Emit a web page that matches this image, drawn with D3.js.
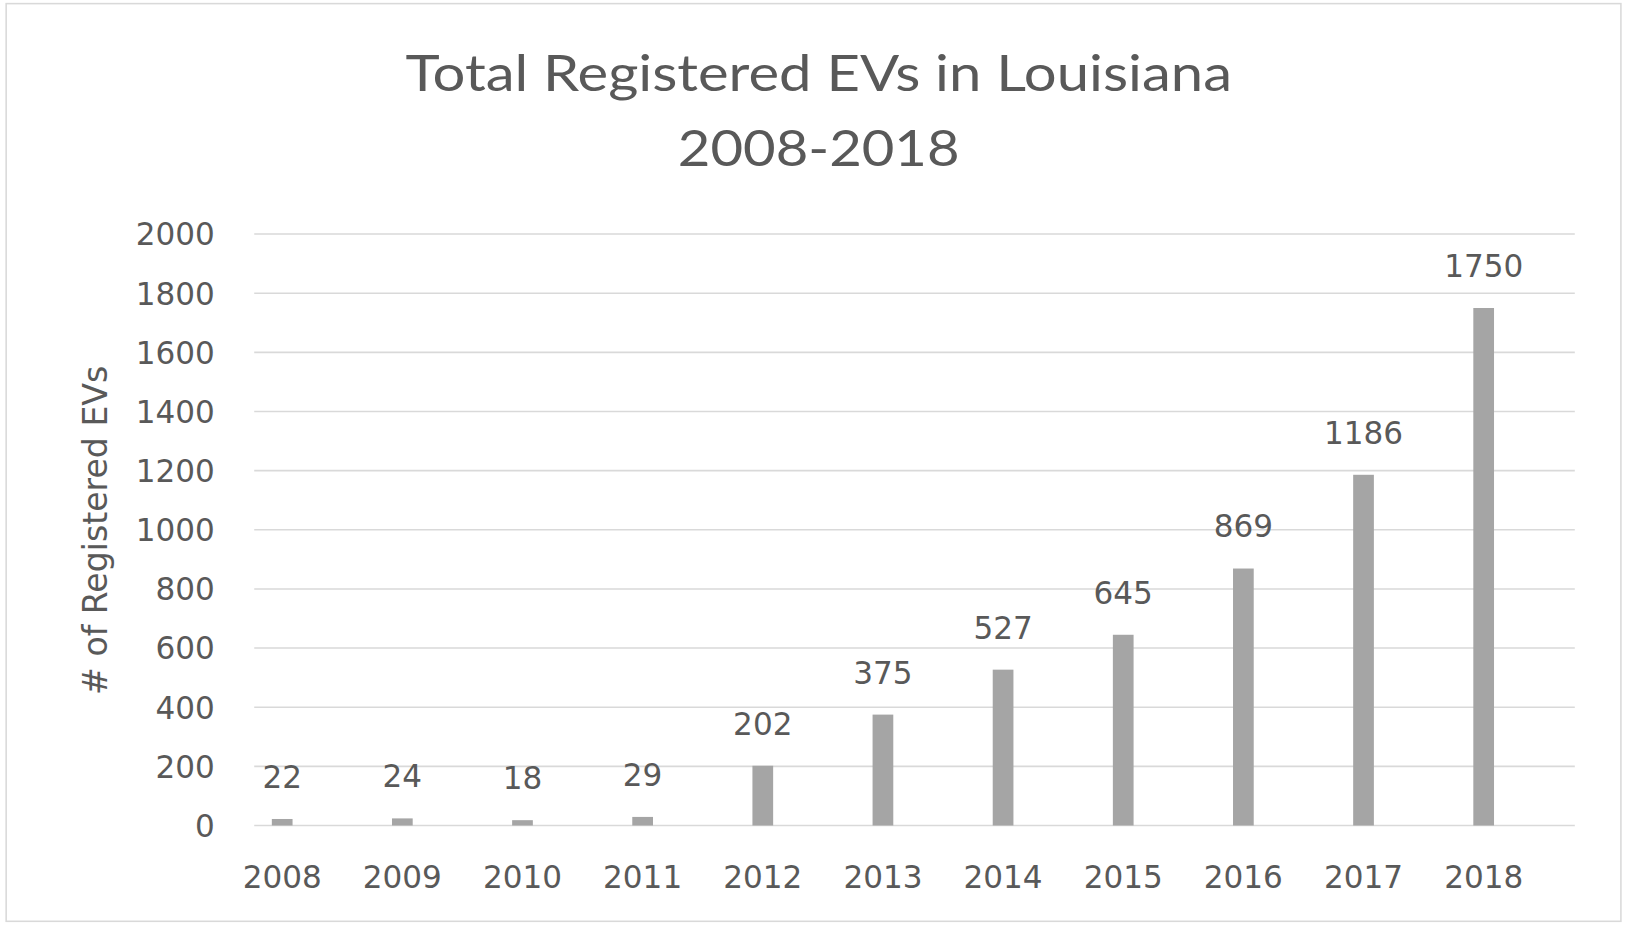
<!DOCTYPE html>
<html lang="en">
<head>
    <meta charset="UTF-8">
    <title>Total Registered EVs in Louisiana</title>
    <script src="https://d3js.org/d3.v7.min.js"></script>
    <style>
        body { margin: 0; background: #fff; }
        svg { display: block; }
    </style>
</head>
<body>
    <svg id="chart" width="1625" height="927" viewBox="0 0 1568 895"></svg>

    <script>
        const years = ["2008", "2009", "2010", "2011", "2012", "2013", "2014", "2015", "2016", "2017", "2018"];
        const evCounts = [22, 24, 18, 29, 202, 375, 527, 645, 869, 1186, 1750];
        const yTicks = [0, 200, 400, 600, 800, 1000, 1200, 1400, 1600, 1800, 2000];
        const titleLines = ["Total Registered EVs in Louisiana", "2008-2018"];
        const yLabel = "# of Registered EVs";

        const svg = d3.select("#chart");
        const textColor = "#595959";
        const tickFont = "DejaVu Sans, Verdana, sans-serif";

        // outer chart frame
        svg.append("rect")
            .attr("x", 5.5).attr("y", 3.5)
            .attr("width", 1559).attr("height", 886)
            .attr("fill", "#fff")
            .attr("stroke", "#d9d9d9")
            .attr("stroke-width", 1.5);

        const x = d3.scaleBand().domain(years).range([214, 1490]).paddingInner(0).paddingOuter(0);
        const y = d3.scaleLinear().domain([0, 2000]).range([797, 226]);
        const barW = 20;

        // gridlines
        svg.append("g").selectAll("line")
            .data(yTicks)
            .enter().append("line")
            .attr("x1", 245).attr("x2", 1520)
            .attr("y1", d => y(d)).attr("y2", d => y(d))
            .attr("stroke", "#d9d9d9")
            .attr("stroke-width", 1.5);

        // y tick labels
        svg.append("g").selectAll("text")
            .data(yTicks)
            .enter().append("text")
            .attr("x", 207)
            .attr("y", d => y(d) + 11)
            .attr("text-anchor", "end")
            .attr("fill", textColor)
            .attr("font-family", tickFont)
            .attr("font-size", 30)
            .text(d => d);

        // x tick labels
        svg.append("g").selectAll("text")
            .data(years)
            .enter().append("text")
            .attr("x", d => x(d) + x.bandwidth() / 2)
            .attr("y", 857)
            .attr("text-anchor", "middle")
            .attr("fill", textColor)
            .attr("font-family", tickFont)
            .attr("font-size", 30)
            .text(d => d);

        // bars
        svg.append("g").selectAll("rect")
            .data(evCounts)
            .enter().append("rect")
            .attr("x", (d, i) => x(years[i]) + x.bandwidth() / 2 - barW / 2)
            .attr("y", d => y(d))
            .attr("width", barW)
            .attr("height", d => y(0) - y(d))
            .attr("fill", "#a5a5a5");

        // data labels
        svg.append("g").selectAll("text")
            .data(evCounts)
            .enter().append("text")
            .attr("x", (d, i) => x(years[i]) + x.bandwidth() / 2)
            .attr("y", d => y(d) - 30)
            .attr("text-anchor", "middle")
            .attr("fill", textColor)
            .attr("font-family", tickFont)
            .attr("font-size", 30)
            .text(d => d);

        // y axis title
        svg.append("text")
            .attr("transform", "translate(103,512) rotate(-90)")
            .attr("text-anchor", "middle")
            .attr("fill", textColor)
            .attr("font-family", tickFont)
            .attr("font-size", 32)
            .text(yLabel);

        // chart title
        svg.append("g").selectAll("text")
            .data(titleLines)
            .enter().append("text")
            .attr("x", 790)
            .attr("y", (d, i) => 88 + i * 72)
            .attr("text-anchor", "middle")
            .attr("fill", textColor)
            .attr("font-family", "Lato, Open Sans, sans-serif")
            .attr("font-size", 48)
            .attr("textLength", (d, i) => i === 0 ? 798 : 272)
            .attr("lengthAdjust", "spacingAndGlyphs")
            .text(d => d);
    </script>
</body>
</html>
